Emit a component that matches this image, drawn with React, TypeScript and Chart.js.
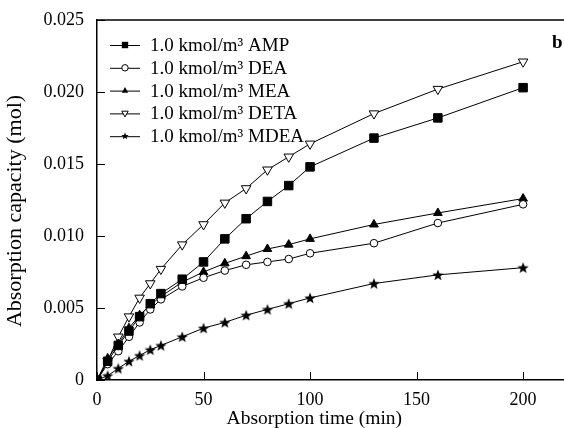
import React, { useEffect, useRef } from 'react';
import { Chart, registerables } from 'chart.js';

Chart.register(...registerables);

// ---- data ----
const times = [0, 5, 10, 15, 20, 25, 30, 40, 50, 60, 70, 80, 90, 100, 130, 160, 200];
const amp = [0, 0.0013, 0.0024, 0.0034, 0.0044, 0.0053, 0.006, 0.007, 0.0082, 0.0098, 0.0112, 0.0124, 0.0135, 0.0148, 0.0168, 0.0182, 0.0203];
const dea = [0, 0.0011, 0.002, 0.003, 0.004, 0.0049, 0.0056, 0.0065, 0.0071, 0.0076, 0.008, 0.0082, 0.0084, 0.0088, 0.0095, 0.0109, 0.0122];
const mea = [0, 0.0015, 0.0025, 0.0036, 0.0045, 0.0052, 0.0058, 0.0068, 0.0075, 0.0081, 0.0086, 0.0091, 0.0094, 0.0098, 0.0108, 0.0116, 0.0126];
const deta = [0, 0.0013, 0.003, 0.0044, 0.0057, 0.0067, 0.0077, 0.0094, 0.0108, 0.0123, 0.0133, 0.0146, 0.0155, 0.0164, 0.0185, 0.0202, 0.0221];
const mdea = [0, 0.0003, 0.0008, 0.0013, 0.0017, 0.0021, 0.0024, 0.003, 0.0036, 0.004, 0.0045, 0.0049, 0.0053, 0.0057, 0.0067, 0.0073, 0.0078];
const seriesLabels = ['1.0 kmol/m³ AMP', '1.0 kmol/m³ DEA', '1.0 kmol/m³ MEA', '1.0 kmol/m³ DETA', '1.0 kmol/m³ MDEA'];
const xTicks = [0, 50, 100, 150, 200];
const yTicks = [0, 0.005, 0.01, 0.015, 0.02, 0.025];
const xTitle = 'Absorption time (min)';
const yTitle = 'Absorption capacity (mol)';
const panelLabel = 'b';

const FONT = "'Liberation Serif', 'Times New Roman', serif";

function starPath(ctx: CanvasRenderingContext2D, cx: number, cy: number, R: number) {
  const r = R * 0.42;
  ctx.beginPath();
  for (let i = 0; i < 10; i++) {
    const a = -Math.PI / 2 + (i * Math.PI) / 5;
    const rad = i % 2 === 0 ? R : r;
    ctx.lineTo(cx + rad * Math.cos(a), cy + rad * Math.sin(a));
  }
  ctx.closePath();
}

function makeStar(size: number) {
  const c = document.createElement('canvas');
  c.width = size;
  c.height = size;
  const ctx = c.getContext('2d')!;
  starPath(ctx, size / 2, size / 2 + 0.5, size / 2);
  ctx.fillStyle = '#000';
  ctx.fill();
  return c;
}

function drawMarker(ctx: CanvasRenderingContext2D, kind: string, x: number, y: number, s: number) {
  ctx.save();
  ctx.lineWidth = 1;
  ctx.strokeStyle = '#000';
  ctx.fillStyle = '#000';
  if (kind === 'rect') {
    ctx.fillRect(x - s, y - s, 2 * s, 2 * s);
  } else if (kind === 'circle') {
    ctx.beginPath();
    ctx.arc(x, y, s, 0, Math.PI * 2);
    ctx.fillStyle = '#fff';
    ctx.fill();
    ctx.stroke();
  } else if (kind === 'up') {
    ctx.beginPath();
    ctx.moveTo(x, y - s * 1.1);
    ctx.lineTo(x + s, y + s * 0.7);
    ctx.lineTo(x - s, y + s * 0.7);
    ctx.closePath();
    ctx.fill();
  } else if (kind === 'down') {
    ctx.beginPath();
    ctx.moveTo(x, y + s * 1.1);
    ctx.lineTo(x + s, y - s * 0.7);
    ctx.lineTo(x - s, y - s * 0.7);
    ctx.closePath();
    ctx.fillStyle = '#fff';
    ctx.fill();
    ctx.stroke();
  } else if (kind === 'star') {
    starPath(ctx, x, y, s * 1.2);
    ctx.fill();
  }
  ctx.restore();
}

const legendKinds = ['rect', 'circle', 'up', 'down', 'star'];

const decorPlugin = {
  id: 'decor',
  afterDraw(chart: any) {
    const { ctx, chartArea: ca, scales } = chart;
    const xs = scales.x;
    const ys = scales.y;
    ctx.save();
    ctx.strokeStyle = '#000';
    // top frame
    ctx.lineWidth = 1.5;
    ctx.beginPath();
    ctx.moveTo(ca.left, ca.top);
    ctx.lineTo(564, ca.top);
    ctx.stroke();
    // inward ticks
    ctx.lineWidth = 1;
    ctx.beginPath();
    xTicks.forEach((v) => {
      const p = Math.round(xs.getPixelForValue(v)) + 0.5;
      ctx.moveTo(p, ca.bottom);
      ctx.lineTo(p, ca.bottom - 8);
    });
    yTicks.forEach((v) => {
      const p = Math.round(ys.getPixelForValue(v)) + 0.5;
      ctx.moveTo(ca.left, p);
      ctx.lineTo(ca.left + 8, p);
    });
    ctx.stroke();

    ctx.fillStyle = '#000';
    // x title
    ctx.font = `19.5px ${FONT}`;
    ctx.textAlign = 'center';
    ctx.textBaseline = 'middle';
    ctx.fillText(xTitle, xs.getPixelForValue(102), 419);
    // y title
    ctx.save();
    ctx.translate(15, 211);
    ctx.rotate(-Math.PI / 2);
    ctx.font = `22px ${FONT}`;
    ctx.fillText(yTitle, 0, 0);
    ctx.restore();
    // panel label
    ctx.font = `bold 19px ${FONT}`;
    ctx.textAlign = 'left';
    ctx.textBaseline = 'alphabetic';
    ctx.fillText(panelLabel, 552, 48);

    // legend
    ctx.font = `19px ${FONT}`;
    ctx.textBaseline = 'middle';
    seriesLabels.forEach((lab, i) => {
      const y = 45 + i * 22.8;
      ctx.lineWidth = 1;
      ctx.beginPath();
      ctx.moveTo(110, y + 0.5);
      ctx.lineTo(140, y + 0.5);
      ctx.stroke();
      drawMarker(ctx, legendKinds[i], 125, y, 3.2);
      ctx.fillStyle = '#000';
      ctx.fillText(lab, 150, y + 1);
    });
    ctx.restore();
  },
};

export default function App() {
  const ref = useRef<HTMLCanvasElement | null>(null);
  useEffect(() => {
    document.body.style.margin = '0';
    const star = makeStar(12);
    const mk = (data: number[]) => times.map((t, i) => ({ x: t, y: data[i] }));
    const base = {
      borderColor: '#000',
      borderWidth: 1,
      tension: 0,
      fill: false,
      pointBorderColor: '#000',
      pointBorderWidth: 1,
    };
    const chart = new Chart(ref.current!, {
      type: 'line',
      data: {
        datasets: [
          { ...base, label: seriesLabels[0], data: mk(amp), pointStyle: 'rect', pointRadius: 6, pointBackgroundColor: '#000' },
          { ...base, label: seriesLabels[1], data: mk(dea), pointStyle: 'circle', pointRadius: 3.8, pointBackgroundColor: '#fff' },
          { ...base, label: seriesLabels[2], data: mk(mea), pointStyle: 'triangle', pointRadius: 5, pointBackgroundColor: '#000' },
          { ...base, label: seriesLabels[3], data: mk(deta), pointStyle: 'triangle', pointRotation: 180, pointRadius: 5.5, pointBackgroundColor: '#fff' },
          { ...base, label: seriesLabels[4], data: mk(mdea), pointStyle: star as any, pointRadius: 5, pointBackgroundColor: '#000' },
        ] as any,
      },
      options: {
        animation: false,
        responsive: false,
        maintainAspectRatio: false,
        devicePixelRatio: 1,
        layout: { autoPadding: false, padding: { top: 20, left: 0, right: 0, bottom: 0 } },
        plugins: { legend: { display: false }, tooltip: { enabled: false } },
        scales: {
          x: {
            type: 'linear',
            min: 0,
            max: 219.2,
            afterBuildTicks: (s: any) => {
              s.ticks = xTicks.map((v) => ({ value: v }));
            },
            afterFit: (s: any) => {
              s.height = 48;
              s.paddingRight = 0;
              s.paddingLeft = 0;
            },
            grid: { display: true, drawOnChartArea: false, drawTicks: false },
            border: { display: true, color: '#000', width: 1.5 },
            ticks: {
              color: '#000',
              font: { family: FONT, size: 18 },
              padding: 9,
              maxRotation: 0,
              autoSkip: false,
            },
          },
          y: {
            type: 'linear',
            min: 0,
            max: 0.025,
            afterBuildTicks: (s: any) => {
              s.ticks = yTicks.map((v) => ({ value: v }));
            },
            afterFit: (s: any) => {
              s.width = 97;
              s.paddingTop = 0;
              s.paddingBottom = 0;
            },
            grid: { display: true, drawOnChartArea: false, drawTicks: false },
            border: { display: true, color: '#000', width: 1.5 },
            ticks: {
              color: '#000',
              font: { family: FONT, size: 18 },
              padding: 13,
              autoSkip: false,
              callback: (v: any) => (Number(v) === 0 ? '0' : Number(v).toFixed(3)),
            },
          },
        },
      },
      plugins: [decorPlugin],
    });
    return () => chart.destroy();
  }, []);
  return <canvas ref={ref} width={564} height={428} style={{ display: 'block' }} />;
}
